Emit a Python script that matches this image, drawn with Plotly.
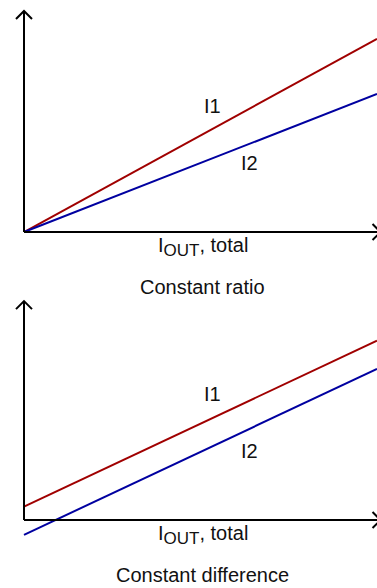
"""Current sharing schematic: constant ratio vs constant difference."""

import plotly.graph_objects as go

# I_OUT,total from zero to full scale (arbitrary units)
i_total = [0, 10]

# Constant ratio: both currents start at zero, I2/I1 fixed
ratio_i1 = [0, 5.47]
ratio_i2 = [0, 3.91]

# Constant difference: parallel lines, I1 - I2 fixed
diff_i1 = [0.38, 5.08]
diff_i2 = [-0.42, 4.28]

panel_titles = ["Constant ratio", "Constant difference"]
x_label = "I<sub><span style='font-size:17px'>OUT</span></sub>, total"

RED = "#A00000"
BLUE = "#0000A0"
FONT = "Liberation Sans, Arial, sans-serif"

fig = go.Figure()

panels = [
    ("x", "y", ratio_i1, ratio_i2, 6.26),
    ("x2", "y2", diff_i1, diff_i2, 6.20),
]

annotations = []
shapes = []
for (xr, yr, i1, i2, y_tip), title in zip(panels, panel_titles):
    fig.add_trace(go.Scatter(x=i_total, y=i1, mode="lines", xaxis=xr, yaxis=yr,
                             line=dict(color=RED, width=2), showlegend=False,
                             hoverinfo="skip"))
    fig.add_trace(go.Scatter(x=i_total, y=i2, mode="lines", xaxis=xr, yaxis=yr,
                             line=dict(color=BLUE, width=2), showlegend=False,
                             hoverinfo="skip"))

    # axis lines
    shapes.append(dict(type="line", xref=xr, yref=yr, x0=0, y0=0, x1=10.1, y1=0,
                       line=dict(color="black", width=2)))
    shapes.append(dict(type="line", xref=xr, yref=yr, x0=0, y0=0, x1=0, y1=y_tip,
                       line=dict(color="black", width=2)))

    # open arrow heads, sized in pixels around the axis tips
    shapes.append(dict(type="path", xref=xr, yref=yr, xsizemode="pixel",
                       ysizemode="pixel", xanchor=10.1, yanchor=0,
                       path="M-8,8 L0,0 L-8,-8",
                       line=dict(color="black", width=2)))
    shapes.append(dict(type="path", xref=xr, yref=yr, xsizemode="pixel",
                       ysizemode="pixel", xanchor=0, yanchor=y_tip,
                       path="M-8,-8 L0,0 L8,-8",
                       line=dict(color="black", width=2)))

    # labels
    annotations.append(dict(xref=xr, yref=yr, x=5.33, y=3.57, text="I1",
                            showarrow=False))
    annotations.append(dict(xref=xr, yref=yr, x=6.4, y=1.95, text="I2",
                            showarrow=False))
    annotations.append(dict(xref=xr, yref=yr, x=5.07, y=-0.42, text=x_label,
                            showarrow=False))
    annotations.append(dict(xref=xr, yref=yr, x=5.07, y=-1.56, text=title,
                            showarrow=False))

hidden = dict(showgrid=False, zeroline=False, showticklabels=False,
              showline=False, ticks="", fixedrange=True)

fig.update_layout(
    width=377,
    height=588,
    margin=dict(l=0, r=0, t=0, b=0),
    paper_bgcolor="white",
    plot_bgcolor="white",
    font=dict(family=FONT, size=20, color="#111111"),
    xaxis=dict(domain=[0, 1], range=[-0.68, 10.0], anchor="y", **hidden),
    yaxis=dict(domain=[0.5, 1], range=[-1.756, 6.572], anchor="x", **hidden),
    xaxis2=dict(domain=[0, 1], range=[-0.68, 10.0], anchor="y2", **hidden),
    yaxis2=dict(domain=[0, 0.5], range=[-1.926, 6.402], anchor="x2", **hidden),
    shapes=shapes,
    annotations=annotations,
)

fig.write_html("out.html", config={"displayModeBar": False},
               post_script="document.body.style.margin = '0';")
